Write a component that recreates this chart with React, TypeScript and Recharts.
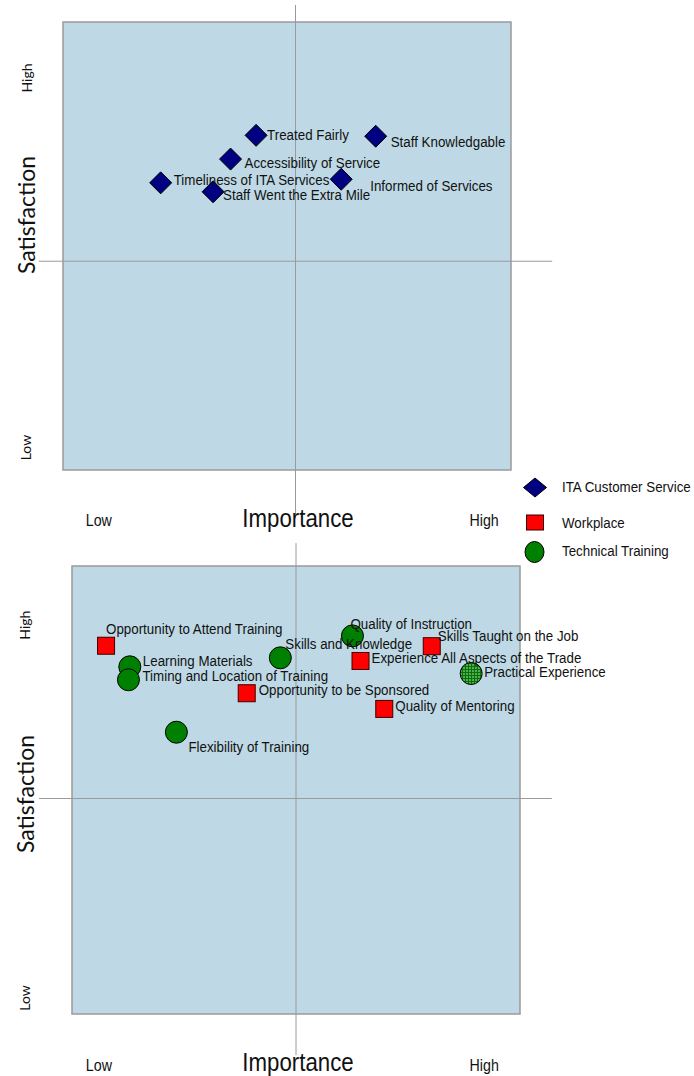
import React from "react";
import {
  ScatterChart,
  Scatter,
  XAxis,
  YAxis,
  ReferenceArea,
  ReferenceLine,
  Legend,
} from "recharts";

// ITA customer service items (importance / satisfaction on a 0-100 grid)
const serviceNames = [
  "Treated Fairly",
  "Staff Knowledgable",
  "Accessibility of Service",
  "Timeliness of ITA Services",
  "Staff Went the Extra Mile",
  "Informed of Services",
];
const serviceImportance = [43.1, 69.8, 37.4, 21.8, 33.5, 62.1];
const serviceSatisfaction = [74.7, 74.5, 69.4, 64.1, 62.1, 64.9];

// Workplace items
const workplaceNames = [
  "Opportunity to Attend Training",
  "Skills Taught on the Job",
  "Experience All Aspects of the Trade",
  "Opportunity to be Sponsored",
  "Quality of Mentoring",
];
const workplaceImportance = [7.6, 80.3, 64.4, 39.0, 69.7];
const workplaceSatisfaction = [82.2, 82.1, 78.8, 71.6, 68.1];

// Technical training items
const trainingNames = [
  "Quality of Instruction",
  "Skills and Knowledge",
  "Learning Materials",
  "Timing and Location of Training",
  "Flexibility of Training",
  "Practical Experience",
];
const trainingImportance = [62.6, 46.5, 12.9, 12.6, 23.3, 89.1];
const trainingSatisfaction = [84.4, 79.5, 77.5, 74.6, 62.9, 76.0];

// Items rated in both the workplace and the training survey
const sharedNames = ["Practical Experience"];

const seriesNames = ["ITA Customer Service", "Workplace", "Technical Training"];
const levelLabels = ["Low", "High"];

const serviceImportanceTicks = [8, 94];
const serviceSatisfactionTicks = [5, 87.5];
const trainingImportanceTicks = [6, 92];
const trainingSatisfactionTicks = [3.6, 86.8];

// Quadrant dividers [importance, satisfaction]
const serviceMidpoint = [51.9, 46.6];
const trainingMidpoint = [50, 48.1];

type Point = { name: string; importance: number; satisfaction: number };
const toPoints = (names: string[], imp: number[], sat: number[]): Point[] =>
  names.map((name, i) => ({ name, importance: imp[i], satisfaction: sat[i] }));

const servicePoints = toPoints(serviceNames, serviceImportance, serviceSatisfaction);
const workplacePoints = toPoints(workplaceNames, workplaceImportance, workplaceSatisfaction);
const trainingPoints = toPoints(trainingNames, trainingImportance, trainingSatisfaction);

// ---- styling ----
const CONDENSE = 0.89;
const LABEL_FONT = "'Liberation Sans', Arial, Helvetica, sans-serif";
const SIDE_FONT = "Lato, 'Open Sans', sans-serif";
const TEXT = "#111";
const PANEL_FILL = "#bed9e5";
const DIVIDER = "#9a9a9a";
const NAVY = "#000080";
const RED = "#ff0000";
const GREEN = "#008000";

// where each point's caption sits relative to its marker
const labelNudge: Record<string, [number, number]> = {
  "Treated Fairly": [11, 0],
  "Staff Knowledgable": [15, 6],
  "Accessibility of Service": [14, 4],
  "Timeliness of ITA Services": [13, -3],
  "Staff Went the Extra Mile": [10, 3],
  "Informed of Services": [29, 7],
  "Opportunity to Attend Training": [0, -17],
  "Learning Materials": [13, -6],
  "Timing and Location of Training": [14, -4],
  "Skills and Knowledge": [5, -14],
  "Opportunity to be Sponsored": [12, -3],
  "Flexibility of Training": [12, 15],
  "Quality of Instruction": [-2, -12],
  "Skills Taught on the Job": [6, -10],
  "Experience All Aspects of the Trade": [11, -3],
  "Practical Experience": [13, -2],
  "Quality of Mentoring": [11, -3],
};

function CondText({
  x,
  y,
  size,
  anchor = "start",
  children,
}: {
  x: number;
  y: number;
  size: number;
  anchor?: "start" | "middle" | "end";
  children: React.ReactNode;
}) {
  return (
    <text
      transform={`translate(${x},${y}) scale(${CONDENSE},1)`}
      fontFamily={LABEL_FONT}
      fontSize={size}
      textAnchor={anchor}
      fill={TEXT}
    >
      {children}
    </text>
  );
}

function DiamondMark(props: any) {
  const { cx, cy } = props;
  const h = 11;
  return (
    <polygon
      points={`${cx},${cy - h} ${cx + h},${cy} ${cx},${cy + h} ${cx - h},${cy}`}
      fill={NAVY}
      stroke="#000"
      strokeWidth={1}
    />
  );
}

function SquareMark(props: any) {
  const { cx, cy } = props;
  const s = 17;
  return (
    <rect
      x={cx - s / 2}
      y={cy - s / 2}
      width={s}
      height={s}
      fill={RED}
      stroke="#3a0000"
      strokeWidth={1}
    />
  );
}

function CircleMark(props: any) {
  const { cx, cy, payload } = props;
  const shared = sharedNames.includes(payload?.name);
  return (
    <g>
      {shared && (
        <defs>
          <pattern id="sharedGrid" width="3" height="3" patternUnits="userSpaceOnUse">
            <rect width="3" height="3" fill="#4fae4f" />
            <path d="M0 0.5H3M0.5 0V3" stroke="#0b6e0b" strokeWidth="1" />
          </pattern>
        </defs>
      )}
      <circle
        cx={cx}
        cy={cy}
        r={11}
        fill={shared ? "url(#sharedGrid)" : GREEN}
        stroke="#000"
        strokeWidth={1}
      />
    </g>
  );
}

function PointLabel(props: any) {
  const { cx, cy, payload } = props;
  const [dx, dy] = labelNudge[payload.name] ?? [12, 0];
  return (
    <CondText x={cx + dx} y={cy + dy + 5} size={15}>
      {payload.name}
    </CondText>
  );
}

function LegendBox() {
  return (
    <svg width={179} height={100} style={{ display: "block" }}>
      <polygon points="20,8 31.5,17.5 20,27 8.5,17.5" fill={NAVY} stroke="#000" strokeWidth={1} />
      <CondText x={47} y={22} size={15}>
        {seriesNames[0]}
      </CondText>
      <rect x={11.5} y={45} width={17} height={15} fill={RED} stroke="#3a0000" strokeWidth={1} />
      <CondText x={47} y={58} size={15}>
        {seriesNames[1]}
      </CondText>
      <ellipse cx={19.5} cy={82} rx={9.5} ry={10.5} fill={GREEN} stroke="#000" strokeWidth={1} />
      <CondText x={47} y={86} size={15}>
        {seriesNames[2]}
      </CondText>
    </svg>
  );
}

type PanelProps = {
  height: number;
  plotLeft: number;
  plotTop: number;
  plotRight: number;
  xAxisHeight: number;
  importanceTicks: number[];
  satisfactionTicks: number[];
  midpoint: number[];
  verticalSpan: [number, number];
  horizontalSpan: [number, number];
  tickBaseline: number;
  titleBaseline: number;
  sideX: number;
  sideTitleY: number;
  series: { key: string; points: Point[]; shape: (p: any) => React.ReactElement }[];
  showLegend?: boolean;
};

function Panel(p: PanelProps) {
  const allPoints = p.series.flatMap((s) => s.points);
  return (
    <ScatterChart
      width={694}
      height={p.height}
      margin={{ top: p.plotTop, right: 694 - p.plotRight, bottom: 0, left: 0 }}
      style={{ fontFamily: LABEL_FONT }}
    >
      <XAxis
        type="number"
        dataKey="importance"
        domain={[0, 100]}
        ticks={p.importanceTicks}
        height={p.xAxisHeight}
        axisLine={false}
        tickLine={false}
        interval={0}
        tick={(t: any) => (
          <CondText x={t.x} y={p.tickBaseline} size={16} anchor="middle">
            {levelLabels[p.importanceTicks.indexOf(t.payload.value)]}
          </CondText>
        )}
        label={{
          content: () => (
            <CondText x={298} y={p.titleBaseline} size={25} anchor="middle">
              Importance
            </CondText>
          ),
        }}
      />
      <YAxis
        type="number"
        dataKey="satisfaction"
        domain={[0, 100]}
        ticks={p.satisfactionTicks}
        width={p.plotLeft}
        axisLine={false}
        tickLine={false}
        interval={0}
        tick={(t: any) => (
          <text
            x={p.sideX}
            y={t.y}
            transform={`rotate(-90, ${p.sideX}, ${t.y})`}
            textAnchor="middle"
            dominantBaseline="central"
            fontFamily={SIDE_FONT}
            fontSize={14}
            fill={TEXT}
          >
            {levelLabels[p.satisfactionTicks.indexOf(t.payload.value)]}
          </text>
        )}
        label={{
          content: () => (
            <text
              x={p.sideX}
              y={p.sideTitleY}
              transform={`rotate(-90, ${p.sideX}, ${p.sideTitleY})`}
              textAnchor="middle"
              dominantBaseline="central"
              fontFamily={SIDE_FONT}
              fontSize={23}
              fill={TEXT}
            >
              Satisfaction
            </text>
          ),
        }}
      />
      <ReferenceArea
        x1={0}
        x2={100}
        y1={0}
        y2={100}
        fill={PANEL_FILL}
        fillOpacity={1}
        stroke={DIVIDER}
        strokeWidth={1.5}
        ifOverflow="visible"
      />
      <ReferenceLine
        segment={[
          { x: p.midpoint[0], y: p.verticalSpan[0] },
          { x: p.midpoint[0], y: p.verticalSpan[1] },
        ]}
        stroke={DIVIDER}
        strokeWidth={1}
        ifOverflow="visible"
      />
      <ReferenceLine
        segment={[
          { x: p.horizontalSpan[0], y: p.midpoint[1] },
          { x: p.horizontalSpan[1], y: p.midpoint[1] },
        ]}
        stroke={DIVIDER}
        strokeWidth={1}
        ifOverflow="visible"
      />
      {p.series.map((s) => (
        <Scatter
          key={s.key}
          name={s.key}
          data={s.points}
          shape={s.shape}
          isAnimationActive={false}
        />
      ))}
      <Scatter
        name="captions"
        data={allPoints}
        shape={PointLabel}
        legendType="none"
        isAnimationActive={false}
      />
      {p.showLegend && (
        <Legend
          layout="vertical"
          align="center"
          verticalAlign="middle"
          wrapperStyle={{ left: 515, top: 470, width: 179, height: 100 }}
          content={() => <LegendBox />}
        />
      )}
    </ScatterChart>
  );
}

export default function App() {
  return (
    <div
      style={{
        position: "absolute",
        left: 0,
        top: 0,
        width: 694,
        height: 1076,
        background: "#fff",
      }}
    >
      <div style={{ position: "absolute", left: 0, top: 0 }}>
        <Panel
          height={540}
          plotLeft={63}
          plotTop={22}
          plotRight={511}
          xAxisHeight={70}
          importanceTicks={serviceImportanceTicks}
          satisfactionTicks={serviceSatisfactionTicks}
          midpoint={serviceMidpoint}
          verticalSpan={[-10.7, 103.8]}
          horizontalSpan={[-5.4, 109.2]}
          tickBaseline={526}
          titleBaseline={527}
          sideX={26}
          sideTitleY={215}
          series={[{ key: seriesNames[0], points: servicePoints, shape: DiamondMark }]}
          showLegend
        />
      </div>
      <div style={{ position: "absolute", left: 0, top: 540 }}>
        <Panel
          height={536}
          plotLeft={72}
          plotTop={26}
          plotRight={520}
          xAxisHeight={62}
          importanceTicks={trainingImportanceTicks}
          satisfactionTicks={trainingSatisfactionTicks}
          midpoint={trainingMidpoint}
          verticalSpan={[-9.2, 105.1]}
          horizontalSpan={[-7.4, 107.1]}
          tickBaseline={531}
          titleBaseline={531}
          sideX={25}
          sideTitleY={254}
          series={[
            { key: seriesNames[1], points: workplacePoints, shape: SquareMark },
            { key: seriesNames[2], points: trainingPoints, shape: CircleMark },
          ]}
        />
      </div>
    </div>
  );
}
